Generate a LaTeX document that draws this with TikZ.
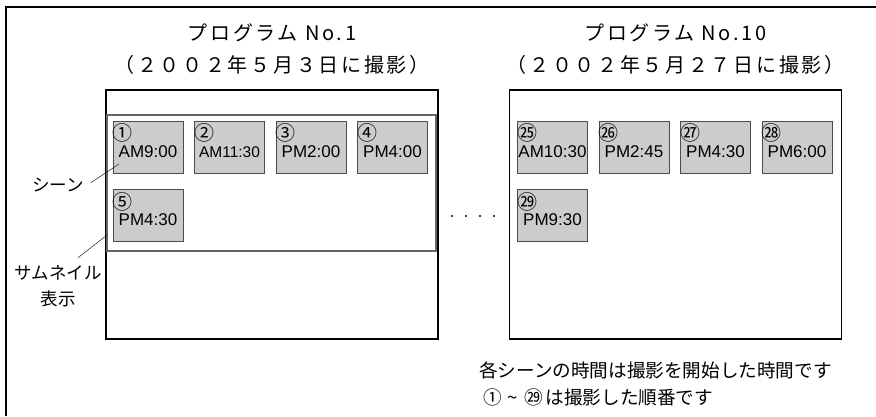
\documentclass[tikz,border=0pt]{standalone}
\usepackage{fontspec}
\setmainfont{Liberation Sans}
\newfontfamily\jp{Noto Sans CJK JP}
\newfontfamily\jpwide[LetterSpace=13.5]{Noto Sans CJK JP}
\usetikzlibrary{positioning}

\begin{document}
\begin{tikzpicture}[x=1pt,y=-1pt,node distance=81.5pt,on grid]
  \tikzstyle{program}=[draw, line width=1.2pt, minimum width=332pt, minimum height=249pt, inner sep=0pt]
  \tikzstyle{panel}=[draw=black!60, line width=1.4pt, minimum width=329pt, minimum height=136pt, inner sep=0pt]
  \tikzstyle{thumb}=[draw=black!70, fill=black!20, line width=0.8pt, minimum width=70pt, minimum height=52pt,
    inner sep=0pt, text height=20pt, text depth=0pt, font=\fontsize{17}{17}\selectfont]
  \tikzstyle{num}=[font=\jp\fontsize{20}{20}\selectfont, inner sep=0pt, anchor=north west, yshift=-3pt]
  \tikzstyle{title}=[font=\jpwide\fontsize{20}{20}\selectfont]
  \tikzstyle{tag}=[font=\jp\fontsize{17.5}{26}\selectfont, align=center]
  \tikzstyle{note}=[font=\jp\fontsize{18.6}{18.6}\selectfont, inner sep=0pt]
  \useasboundingbox (0,0) rectangle (876,416);
  \draw[line width=1.2pt] (6,416) -- (6,7) -- (876,7);

  % program No.1
  \node[program] (p1) at (272,214.5) {};
  \node[panel] (pan1) at (271.5,183) {};
  \node[title] (d1) at ([yshift=25pt]p1.north) {（２００２年５月３日に撮影）};
  \node[title, above=32pt of d1] (t1) {プログラム No.1};
  \node[thumb, label={[num]north west:①}] (s1) at (148,147) {AM9:00};
  \node[thumb, right=of s1, label={[num]north west:②}] (s2) {\fontsize{15.5}{15.5}\selectfont AM11:30};
  \node[thumb, right=of s2, label={[num]north west:③}] (s3) {PM2:00};
  \node[thumb, right=of s3, label={[num]north west:④}] (s4) {PM4:00};
  \node[thumb, below=68.5pt of s1, label={[num]north west:⑤}] (s5) {PM4:30};

  % program No.10
  \node[program] (p10) at (675.5,214.5) {};
  \node[title] (d10) at ([yshift=25pt]p10.north) {（２００２年５月２７日に撮影）};
  \node[title, above=32pt of d10] (t10) {プログラム No.10};
  \node[thumb, label={[num]north west:㉕}] (s25) at (552.5,147) {AM10:30};
  \node[thumb, right=of s25, label={[num]north west:㉖}] (s26) {PM2:45};
  \node[thumb, right=of s26, label={[num]north west:㉗}] (s27) {PM4:30};
  \node[thumb, right=of s27, label={[num]north west:㉘}] (s28) {PM6:00};
  \node[thumb, below=68.5pt of s25, label={[num]north west:㉙}] (s29) {PM9:30};

  \foreach \x in {452,466,480,494} \fill (\x,216) circle (1.1pt);

  % callouts
  \node[tag] (scene) at (58,185) {シーン};
  \node[tag] (thumbtxt) at (58,286) {サムネイル\\表示};
  \coordinate (scenetip) at (119,164);
  \coordinate (pantip) at (107,235);
  \draw[thin, shorten <=4pt] (scene.east) -- (scenetip);
  \draw[thin] ([xshift=20pt,yshift=4pt]thumbtxt.north) -- (pantip);

  % notes
  \node[note, anchor=west] (n1) at (479,370) {各シーンの時間は撮影を開始した時間です};
  \node[note, below=27pt of n1.west, anchor=west] (n2) {\hspace{4pt}①\hspace{6pt}\textasciitilde\hspace{6pt}㉙\hspace{3pt}は撮影した順番です};
\end{tikzpicture}
\end{document}
